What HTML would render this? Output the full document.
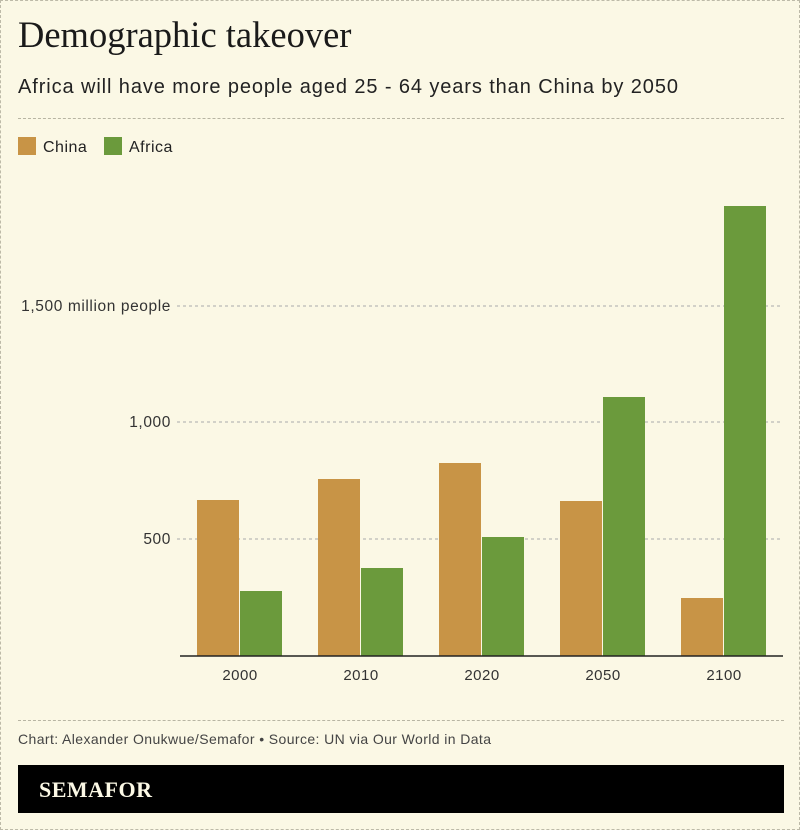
<!DOCTYPE html>
<html><head><meta charset="utf-8"><style>
body{margin:0;background:#fff;}
.w{position:relative;width:798px;height:828px;background:#fbf8e5;border:1px dashed #bdbaa8;font-family:"Liberation Sans",sans-serif;color:#222;overflow:hidden}
.t{position:absolute;left:17px;top:12px;font-family:"Liberation Serif",serif;font-size:36.5px;color:#1a1a1a}
.s{position:absolute;left:17px;top:75px;font-size:20px;letter-spacing:0.9px;color:#222}
.hr{position:absolute;left:17px;width:766px;border-top:1px dashed #b8b5a3}
.lg{position:absolute;top:136px;font-size:16px;color:#222;letter-spacing:0.5px}
.sw{display:inline-block;width:18px;height:18px;vertical-align:-3px;margin-right:7px}
.src{position:absolute;left:17px;top:730px;font-size:14px;letter-spacing:0.4px;color:#444}
.bar{position:absolute;left:17px;top:764px;width:766px;height:48px;background:#000}
.bar span{position:absolute;left:21px;top:12px;color:#fbf8e5;font-family:"Liberation Serif",serif;font-weight:bold;font-size:22px;letter-spacing:0.5px}
</style></head><body><div class="w">
<div class="t">Demographic takeover</div>
<div class="s">Africa will have more people aged 25 - 64 years than China by 2050</div>
<div class="hr" style="top:117px"></div>
<div class="lg" style="left:17px"><span class="sw" style="background:#c89446"></span>China</div>
<div class="lg" style="left:103px"><span class="sw" style="background:#6b9a3c"></span>Africa</div>
<svg style="position:absolute;left:0;top:0" width="800" height="830" font-family="Liberation Sans, sans-serif" font-size="15" fill="#333">
<g stroke="#aaa" stroke-dasharray="3,3"><line x1="176" y1="305" x2="782" y2="305"/><line x1="176" y1="421" x2="782" y2="421"/><line x1="176" y1="538" x2="782" y2="538"/></g>
<g text-anchor="end" font-size="15.5" letter-spacing="0.6"><text x="170" y="310">1,500 million people</text><text x="170" y="426">1,000</text><text x="170" y="543">500</text></g>
<g fill="#c89446"><rect x="196" y="499" width="42" height="156"/><rect x="317" y="478" width="42" height="177"/><rect x="438" y="462" width="42" height="193"/><rect x="559" y="500" width="42" height="155"/><rect x="680" y="597" width="42" height="58"/></g>
<g fill="#6b9a3c"><rect x="239" y="590" width="42" height="65"/><rect x="360" y="567" width="42" height="88"/><rect x="481" y="536" width="42" height="119"/><rect x="602" y="396" width="42" height="259"/><rect x="723" y="205" width="42" height="450"/></g>
<line x1="179" y1="655" x2="782" y2="655" stroke="#222" stroke-width="1.5"/>
<g text-anchor="middle" letter-spacing="0.5"><text x="239" y="679">2000</text><text x="360" y="679">2010</text><text x="481" y="679">2020</text><text x="602" y="679">2050</text><text x="723" y="679">2100</text></g>
</svg>
<div class="hr" style="top:719px"></div>
<div class="src">Chart: Alexander Onukwue/Semafor • Source: UN via Our World in Data</div>
<div class="bar"><span>SEMAFOR</span></div>
</div></body></html>
